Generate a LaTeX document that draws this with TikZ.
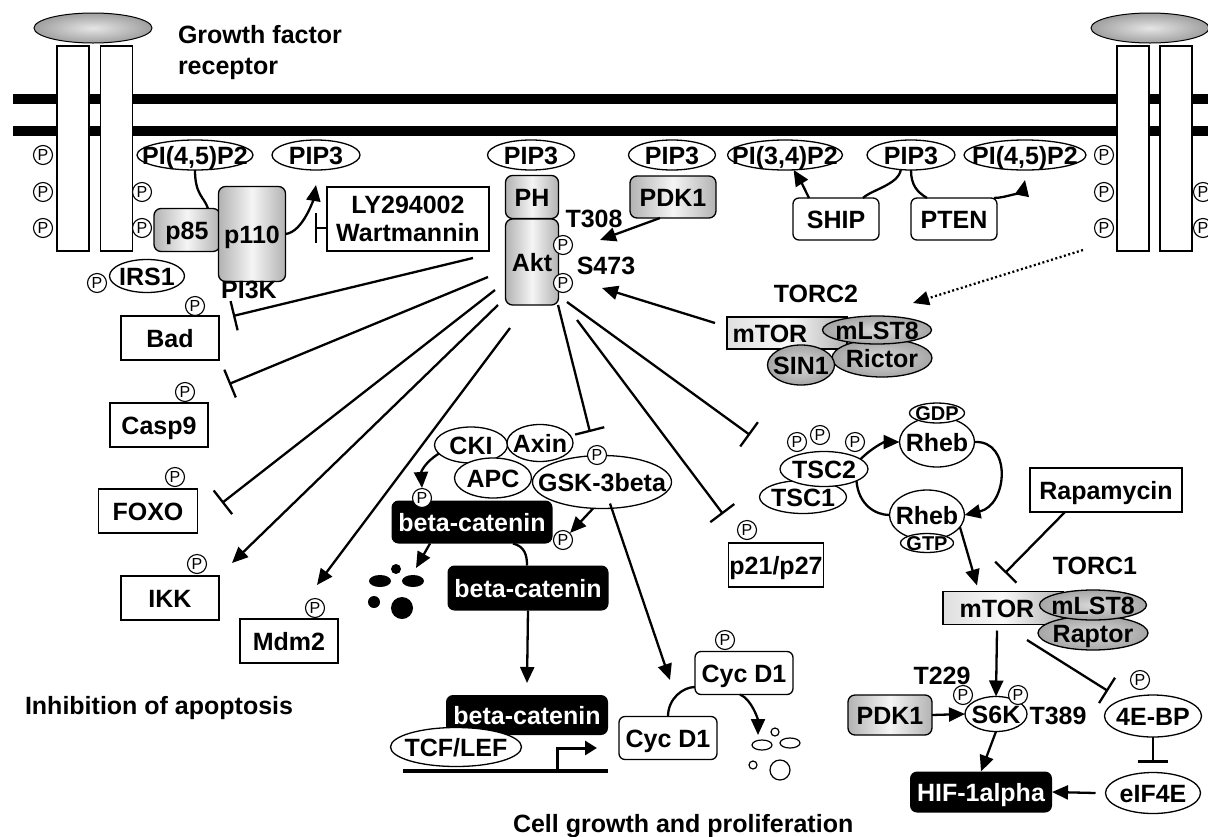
\documentclass[tikz,border=0pt]{standalone}
\usepackage{fontspec}
\setmainfont{Liberation Sans}
\usetikzlibrary{arrows.meta,shapes.geometric}
\newcommand\ct[1]{\makebox[0pt]{\raisebox{-0.36em}[0pt][0pt]{#1}}}
\tikzset{
  base/.style={font=\bfseries\fontsize{25}{28}\selectfont, inner sep=0pt, outer sep=0pt},
  sz/.style 2 args={minimum width=#1pt, minimum height=#2pt},
  ell/.style={base, ellipse, draw, line width=1.3pt, fill=white},
  wbox/.style={base, rectangle, draw, line width=1.3pt, fill=white},
  rbox/.style={wbox, rounded corners=6pt},
  gbox/.style={base, rectangle, rounded corners=7pt, draw, line width=1.3pt, left color=gray!60, right color=gray!60, middle color=gray!8},
  grect/.style={base, rectangle, draw, line width=1.3pt, left color=gray!25, right color=gray!60, middle color=gray!5},
  dell/.style={base, ellipse, draw, line width=1.3pt, inner color=gray!30, outer color=gray!70},
  bbox/.style={base, rectangle, rounded corners=7pt, fill=black, text=white},
  recbar/.style={rectangle, draw, line width=1.3pt, fill=white, minimum width=32pt, minimum height=205pt, inner sep=0pt},
  capell/.style={ellipse, draw, line width=1pt, inner color=gray!20, outer color=gray!75, minimum width=118pt, minimum height=30pt, inner sep=0pt},
  pc/.style={circle, draw, line width=1.1pt, fill=white, minimum size=19pt, inner sep=0pt, font=\fontsize{16}{16}\selectfont},
  txt/.style={base},
  con/.style={line width=2.3pt},
  act/.style={con, -{Triangle[length=16pt,width=14pt]}},
  inh/.style={con, -{Bar[width=30pt,line width=2.3pt]}},
}
\begin{document}
\begin{tikzpicture}[x=1pt,y=-1pt]
\useasboundingbox (0,0) rectangle (1208,836);
% membrane
\fill (13,94) rectangle (1208,104);
\fill (13,126) rectangle (1208,136);
% receptors
\node[recbar] (rL1) at (73,148.5) {};
\node[recbar] (rL2) at (116.5,148.5) {};
\node[capell] (capL) at (93,28) {};
\node[recbar] (rR1) at (1133,148.5) {};
\node[recbar] (rR2) at (1176,148.5) {};
\node[capell] (capR) at (1150,28) {};
\node[txt, anchor=base west] (gf1) at (178,43) {Growth factor};
\node[txt, anchor=base west] (gf2) at (178,74) {receptor};
% lipids
\node[ell, sz={116}{30}] (PI45L) at (195,155) {\ct{PI(4,5)P2}};
\node[ell, sz={88}{30}] (PIP3a) at (316,155) {\ct{PIP3}};
\node[ell, sz={87}{30}] (PIP3b) at (531,155) {\ct{PIP3}};
\node[ell, sz={87}{30}] (PIP3c) at (672,155) {\ct{PIP3}};
\node[ell, sz={115}{30}] (PI34) at (785,155) {\ct{PI(3,4)P2}};
\node[ell, sz={88}{30}] (PIP3d) at (911,155) {\ct{PIP3}};
\node[ell, sz={122}{30}] (PI45R) at (1025,155) {\ct{PI(4,5)P2}};
% PI3K
\node[gbox, sz={66}{43}] (p85) at (187,230) {\ct{p85}};
\node[gbox, sz={67}{95}] (p110) at (252,234) {\ct{p110}};
\node[txt] (pi3k) at (249,289) {\ct{PI3K}};
\node[ell, sz={75}{33}] (IRS1) at (147,276) {\ct{IRS1}};
\node[wbox, sz={162}{64}, align=center] (LY) at (408,219) {LY294002\\Wartmannin};
% Akt
\node[gbox, sz={53}{43}] (PH) at (532,197) {\ct{PH}};
\node[gbox, sz={53}{86}] (akt) at (532,262) {\ct{Akt}};
\node[txt] (t308l) at (594,218) {\ct{T308}};
\node[txt] (s473l) at (606,265) {\ct{S473}};
\node[gbox, sz={86}{42}] (PDK1a) at (673,197) {\ct{PDK1}};
\node[rbox, sz={86}{42}] (SHIP) at (836,219) {\ct{SHIP}};
\node[rbox, sz={86}{42}] (PTEN) at (954,219) {\ct{PTEN}};
% TORC2
\node[txt] (torc2) at (816,293) {\ct{TORC2}};
\node[grect, sz={120}{32}] (mtor2) at (787,333) {};
\node[txt] (mtor2t) at (770,333) {\ct{mTOR}};
\node[dell, sz={100}{38}] (rictor) at (882,358) {\ct{Rictor}};
\node[dell, sz={67}{40}] (sin1) at (801,365) {\ct{SIN1}};
\node[dell, sz={109}{28}] (mlst8a) at (877,330) {\ct{mLST8}};
% apoptosis targets
\node[wbox, sz={98}{44}] (bad) at (170,338) {\ct{Bad}};
\node[wbox, sz={98}{44}] (casp9) at (159,425) {\ct{Casp9}};
\node[wbox, sz={99}{44}] (foxo) at (148,511) {\ct{FOXO}};
\node[wbox, sz={98}{44}] (ikk) at (170,598) {\ct{IKK}};
\node[wbox, sz={98}{44}] (mdm2) at (289,641) {\ct{Mdm2}};
\node[txt, anchor=base west] (inhap) at (25,714) {Inhibition of apoptosis};
% beta-catenin destruction complex
\node[ell, sz={73}{36}] (CKI) at (471,445) {\ct{CKI}};
\node[ell, sz={66}{37}] (axin) at (540,443) {\ct{Axin}};
\node[ell, sz={77}{40}] (APC) at (493,478) {\ct{APC}};
\node[ell, sz={139}{53}] (GSK) at (602,482) {\ct{GSK-3beta}};
\node[bbox, sz={161}{43}] (bc1) at (472,522) {\ct{beta-catenin}};
\node[bbox, sz={161}{45}] (bc2) at (528,588) {\ct{beta-catenin}};
\node[bbox, sz={162}{40}] (bc3) at (527,715) {\ct{beta-catenin}};
\node[ell, sz={131}{39}] (TCF) at (456,747) {\ct{TCF/LEF}};
\draw[line width=4pt] (403,771) -- (608,771);
\draw[line width=3pt, -{Triangle[length=12pt,width=14pt]}] (557,771) -- (557,748) -- (597,748);
% degradation products
\fill (380,581) ellipse (11 and 6);
\fill (413,581) ellipse (11 and 6);
\fill (396,569) circle (5);
\fill (374,602) circle (6);
\fill (402,608) circle (11);
% Cyc D1
\node[rbox, sz={98}{43}] (cyc1) at (744,673) {\ct{Cyc D1}};
\node[rbox, sz={98}{43}] (cyc2) at (668,738) {\ct{Cyc D1}};
\draw[line width=1.2pt] (762,745) ellipse (10 and 5);
\draw[line width=1.2pt] (790,743) ellipse (10 and 5);
\draw[line width=1.2pt] (775,732) circle (4);
\draw[line width=1.2pt] (753,765) circle (4);
\draw[line width=1.2pt] (780,770) circle (10);
\node[txt, anchor=base west] (cgp) at (513,832) {Cell growth and proliferation};
% p21
\node[wbox, sz={95}{44}] (p21) at (776,565) {\ct{p21/p27}};
% TSC / Rheb
\node[ell, sz={87}{33}] (TSC1) at (803,497) {\ct{TSC1}};
\node[ell, sz={88}{35}] (TSC2) at (824,469) {\ct{TSC2}};
\node[ell, sz={75}{50}] (rhebA) at (937,442) {\ct{Rheb}};
\node[ell, sz={55}{20}, font=\bfseries\fontsize{20}{22}\selectfont] (GDP) at (937,413) {\ct{GDP}};
\node[ell, sz={75}{50}] (rhebB) at (927,515) {\ct{Rheb}};
\node[ell, sz={53}{19}, font=\bfseries\fontsize{20}{22}\selectfont] (GTP) at (927,543) {\ct{GTP}};
\node[wbox, sz={152}{44}] (rapa) at (1106,490) {\ct{Rapamycin}};
% TORC1
\node[txt] (torc1) at (1095,565) {\ct{TORC1}};
\node[grect, sz={120}{33}] (mtor1) at (1003,608) {};
\node[txt] (mtor1t) at (997,608) {\ct{mTOR}};
\node[dell, sz={110}{34}] (raptor) at (1093,633) {\ct{Raptor}};
\node[dell, sz={107}{30}] (mlst8b) at (1093,605) {\ct{mLST8}};
\node[ell, sz={62}{35}] (S6K) at (996,714) {\ct{S6K}};
\node[txt] (t229) at (942,675) {\ct{T229}};
\node[txt] (t389) at (1058,715) {\ct{T389}};
\node[gbox, sz={84}{40}] (PDK1b) at (890,715) {\ct{PDK1}};
\node[bbox, sz={142}{41}] (HIF) at (981,792) {\ct{HIF-1alpha}};
\node[ell, sz={97}{42}] (EBP) at (1153,716) {\ct{4E-BP}};
\node[ell, sz={95}{41}] (eIF) at (1153,793) {\ct{eIF4E}};
% phosphate circles
\foreach \n/\x/\y in {pL1/43/155, pL2/43/192, pL3/43/228, pL4/142/192, pL5/142/228,
  pR1/1104/155, pR2/1104/192, pR3/1104/228, pR4/1203/192, pR5/1203/228,
  pIRS/97/283, pBad/195/306, pCasp/185/392, pFoxo/175/477, pIkk/197/564, pMdm/315/608,
  pAkt1/563/245, pAkt2/563/283, pGsk/597/455, pBc1/422/498, pBc2/563/540, pP21/747/530,
  pTsc1/797/442, pTsc2/820/435, pTsc3/855/442, pCyc/725/640, pS1/963/695, pS2/1018/695, pEbp/1140/680}
  \node[pc] (\n) at (\x,\y) {P};
% ---------- connectors ----------
\draw[con] (PI45L.south) .. controls +(0,25) and +(-4,-12) .. ([xshift=-12pt]p85.north east);
\draw[act] (p110.east) .. controls +(18,-2) and +(-2,12) .. ([yshift=-15pt]PIP3a.south);
\draw[inh] ([yshift=-9pt]LY.west) -- ++(-12,0);
\coordinate (t308) at (600,240);
\draw[act] ([xshift=-13pt]PDK1a.south) -- (t308);
\coordinate (s473) at (602,288);
\draw[act] ([xshift=-12pt,yshift=10pt]mtor2.west) -- (s473);
\coordinate (dotS) at (1083,250);
\coordinate (dotE) at (913,303);
\draw[con, dash pattern=on 2pt off 2.5pt, -{Triangle[length=16pt,width=14pt]}] (dotS) -- (dotE);
% SHIP / PTEN
\draw[con] (PIP3d.-125) .. controls +(-2,15) and +(8,-8) .. ([xshift=-16pt]SHIP.north east);
\draw[act] ([xshift=16pt]SHIP.north west) .. controls +(-3,-8) .. (PI34.-60);
\draw[con] (PIP3d.south) .. controls +(0,15) and +(-10,-6) .. ([xshift=-27pt]PTEN.north);
\draw[act] ([xshift=40pt]PTEN.north) .. controls +(12,0) and +(-2,10) .. ([yshift=-10pt]PI45R.south);
% Akt spokes
\coordinate (aBad) at (473,258); \coordinate (eBad) at (233,316);
\coordinate (aCasp) at (488,277); \coordinate (eCasp) at (229,384);
\coordinate (aFoxo) at (495,290); \coordinate (eFoxo) at (222,503);
\coordinate (aIkk) at (498,305); \coordinate (eIkk) at (232,563);
\coordinate (aMdm) at (510,328); \coordinate (eMdm) at (317,585);
\coordinate (aGsk) at (558,305); \coordinate (eGsk) at (590,432);
\coordinate (aP21) at (577,320); \coordinate (eP21) at (723,514);
\coordinate (aTsc) at (567,302); \coordinate (eTsc) at (750,435);
\draw[inh] (aBad) -- (eBad);
\draw[inh] (aCasp) -- (eCasp);
\draw[inh] (aFoxo) -- (eFoxo);
\draw[act] (aIkk) -- (eIkk);
\draw[act] (aMdm) -- (eMdm);
\draw[inh] (aGsk) -- (eGsk);
\draw[inh] (aP21) -- (eP21);
\draw[inh] (aTsc) -- (eTsc);
% beta-catenin pathway
\coordinate (cycTip) at (670,680);
\draw[act] ([xshift=8pt,yshift=5pt]GSK.south) -- (cycTip);
\draw[act] (CKI.-165) .. controls (425,462) and (421,472) .. (pBc1.north);
\draw[act] ([xshift=-9pt]GSK.south) -- (pBc2.45);
\draw[con] ([xshift=41pt]bc1.south) .. controls +(12,3) and +(0,-10) .. ([xshift=-1pt]bc2.north);
\coordinate (degTip) at (416,568);
\draw[act] ([xshift=-42pt]bc1.south) -- (degTip);
\draw[act] (bc2.south) -- ([yshift=12pt]bc3.north);
% Cyc D1
\draw[con] (cyc2.north) .. controls +(0,-18) and +(-12,0) .. ([yshift=-14pt]cyc1.west);
\coordinate (cycDeg) at (758,735);
\draw[act] ([xshift=-4pt]cyc1.south) .. controls +(12,5) and +(0,-15) .. (cycDeg);
% TSC / Rheb
\draw[act] (TSC2.15) .. controls +(12,-12) and +(-15,0) .. (rhebA.west);
\draw[act] (rhebA.east) .. controls (1012,440) and (1008,505) .. (rhebB.east);
\draw[con] (TSC2.-20) .. controls +(2,24) and +(-14,0) .. (rhebB.west);
\draw[act] (rhebB.-20) -- ([xshift=-26pt,yshift=6pt]mtor1.north);
\coordinate (rapaBar) at (1005,573);
\draw[inh] ([xshift=-41pt]rapa.south) -- (rapaBar);
% TORC1 outputs
\draw[act] ([xshift=-6pt,yshift=-6pt]mtor1.south) -- (S6K.north);
\coordinate (aEbp) at (1027,640); \coordinate (eEbp) at (1108,691);
\draw[inh] (aEbp) -- (eEbp);
\draw[act] (PDK1b.east) -- (S6K.west);
\draw[act] (S6K.south) -- (HIF.north);
\draw[inh] (EBP.south) -- ([yshift=10pt]eIF.north);
\draw[act] ([xshift=-10pt]eIF.west) -- (HIF.east);
\end{tikzpicture}
\end{document}
